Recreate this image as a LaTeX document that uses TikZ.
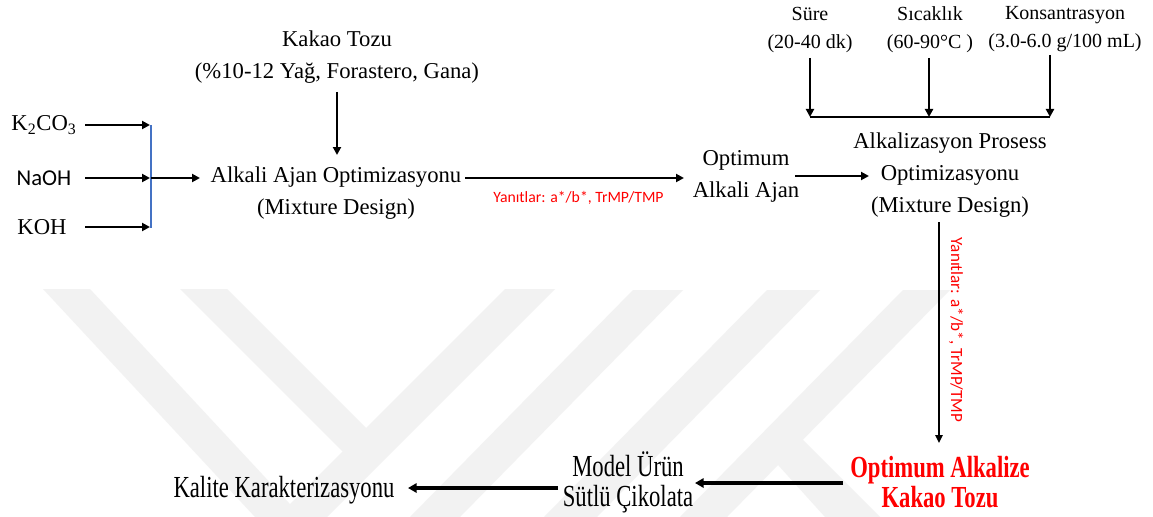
\documentclass[tikz,border=0pt]{standalone}
\usepackage{fontspec}
\usepackage{graphicx}
\setmainfont{Liberation Serif}
\newfontfamily\calf{Carlito}
\usetikzlibrary{arrows.meta}
\definecolor{wm}{gray}{0.948}
\definecolor{barblue}{HTML}{4472C4}
\definecolor{resred}{HTML}{FF0000}
\newcommand{\tall}[1]{\scalebox{1}[1.35]{#1}}
\begin{document}
\lineskiplimit=-100pt
\begin{tikzpicture}[x=0.75pt,y=-0.75pt,
  txt/.style={inner sep=0pt, align=center, font=\fontsize{17}{24}\selectfont},
  toptxt/.style={inner sep=0pt, align=center, font=\fontsize{15}{21}\selectfont},
  bottxt/.style={inner sep=0pt, align=center, font=\fontsize{17}{22.5}\selectfont},
  redlbl/.style={inner sep=0pt, text=resred, font=\calf\fontsize{11.8}{13}\selectfont},
  arr/.style={-{Triangle[length=6pt,width=6pt]}, line width=2pt},
  thinarr/.style={-{Triangle[length=6pt,width=5.5pt]}, line width=1.3pt},
  thickarr/.style={-{Triangle[length=6.5pt,width=7pt]}, line width=2.6pt},
  wmark/.style={fill=wm, draw=none}]
\useasboundingbox (0,0) rectangle (1153,517);
\fill[white] (0,0) rectangle (1153,517);
% watermark
\fill[wmark] (43,289) -- (90,289) -- (302,517) -- (255,517) -- cycle;
\fill[wmark] (180,289) -- (227,289) -- (366,428) -- (367.5,476.5) -- cycle;
\fill[wmark] (505,289) -- (555,289) -- (327,517) -- (277,517) -- cycle;
\fill[wmark] (633,290) -- (683,290) -- (460,517) -- (410,517) -- cycle;
\fill[wmark] (767,290) -- (820,290) -- (597,517) -- (544,517) -- cycle;
\fill[wmark] (903,290) -- (950,290) -- (727,517) -- (680,517) -- cycle;
\fill[wmark] (760,445) -- (800,437) -- (880,517) -- (825,517) -- cycle;
% nodes
\node[txt] (kakao) at (337,57) {Kakao Tozu\\ (\%10-12 Yağ, Forastero, Gana)};
\node[txt] (k2co3) at (44,125) {K\textsubscript{2}CO\textsubscript{3}};
\node[txt, font=\calf\fontsize{17}{20}\selectfont] (naoh) at (44,178) {NaOH};
\node[txt] (koh) at (42,227) {KOH};
\node[txt] (alkali) at (336,193) {Alkali Ajan Optimizasyonu\\ (Mixture Design)};
\node[txt] (optimum) at (746,176) {Optimum\\ Alkali Ajan};
\node[txt] (process) at (950,175) {Alkalizasyon Prosess\\ Optimizasyonu\\ (Mixture Design)};
\node[toptxt] (sure) at (810,30) {Süre\\ (20-40 dk)};
\node[toptxt] (sicak) at (930,30) {Sıcaklık\\ (60-90°C )};
\node[toptxt] (kons) at (1065,29) {Konsantrasyon\\ (3.0-6.0 g/100 mL)};
\node[bottxt, text=resred, font=\bfseries\fontsize{17}{22.5}\selectfont] (optalk) at (940,482) {\tall{Optimum Alkalize}\\ \tall{Kakao Tozu}};
\node[bottxt] (model) at (628,482) {\tall{Model Ürün}\\ \tall{Sütlü Çikolata}};
\node[bottxt] (kalite) at (284,490) {\tall{Kalite Karakterizasyonu}};
% coordinates
\coordinate (kdown1) at (337,92);  \coordinate (kdown2) at (337,155);
\coordinate (b1) at (151,125); \coordinate (b2) at (151,178); \coordinate (b3) at (151,228);
\coordinate (k1) at (85,125); \coordinate (n1) at (85,178); \coordinate (o1) at (85,227);
\coordinate (k2) at (150,125); \coordinate (n2) at (150,178); \coordinate (o2) at (150,227);
\coordinate (bout) at (200,178);
\coordinate (aout) at (465,178); \coordinate (oin) at (684,178);
\coordinate (oout) at (795,176); \coordinate (pin) at (869,176);
\coordinate (s1) at (810,58); \coordinate (s2) at (810,117);
\coordinate (c1) at (929,58); \coordinate (c2) at (929,117);
\coordinate (m1) at (1050,55); \coordinate (m2) at (1050,117);
\coordinate (pout) at (939,222); \coordinate (oain) at (939,443);
\coordinate (oaout) at (843,483); \coordinate (min) at (695,483);
\coordinate (mout) at (558,488); \coordinate (kin) at (408,488);
% connectors
\draw[arr, line width=1.7pt] (kdown1) -- (kdown2);
\draw[arr] (k1) -- (k2);
\draw[arr] (n1) -- (n2);
\draw[arr] (o1) -- (o2);
\draw[barblue, line width=1.5pt] (b1) -- (b3);
\draw[arr] (b2) -- (bout);
\draw[arr] (aout) -- node[redlbl, below=9pt, xshift=3pt] (lbl1) {Yanıtlar: a*/b*, TrMP/TMP} (oin);
\draw[arr] (oout) -- (pin);
\draw[arr] (s1) -- (s2);
\draw[arr] (c1) -- (c2);
\draw[arr] (m1) -- (m2);
\draw[line width=2pt] (s2) -- (m2);
\draw[thinarr] (pout) -- (oain);
\node[redlbl, font=\calf\fontsize{12.8}{14}\selectfont, rotate=-90] (lbl2) at (956,330) {Yanıtlar: a*/b*, TrMP/TMP};
\draw[thickarr] (oaout) -- (min);
\draw[thickarr] (mout) -- (kin);
\end{tikzpicture}
\end{document}
